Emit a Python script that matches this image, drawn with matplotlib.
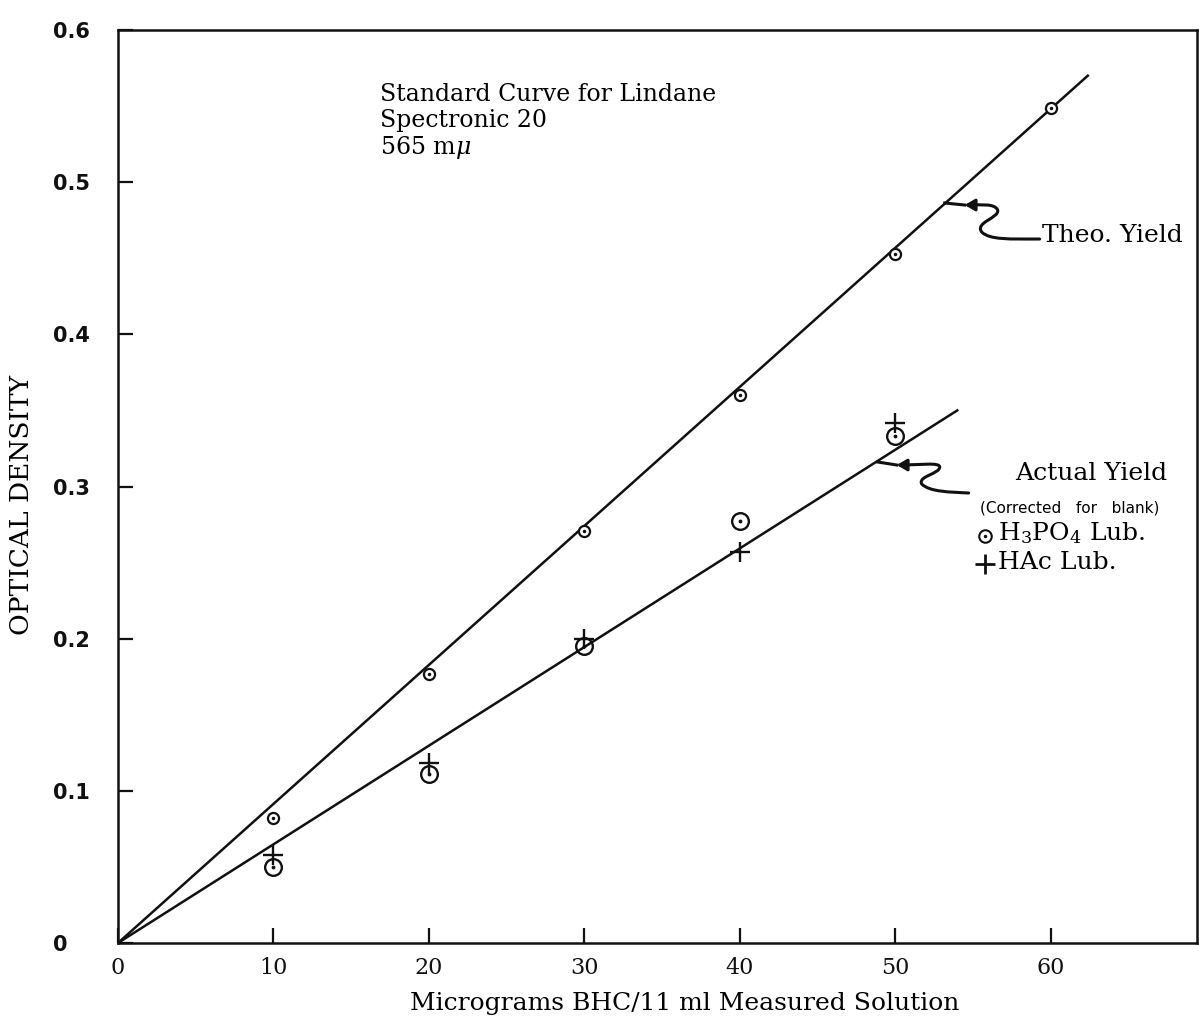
import matplotlib
matplotlib.use('Agg')
import matplotlib.pyplot as plt
from matplotlib.path import Path
from matplotlib.patches import FancyArrowPatch

# data
conc = [10, 20, 30, 40, 50, 60]
theo_od = [0.082, 0.177, 0.271, 0.360, 0.453, 0.549]
conc_act = [10, 20, 30, 40, 50]
h3po4_od = [0.050, 0.111, 0.195, 0.277, 0.333]
hac_od = [0.058, 0.118, 0.200, 0.257, 0.342]

theo_line_x = [0, 62.4]
theo_line_y = [0, 0.570]
act_line_x = [0, 54.0]
act_line_y = [0, 0.350]

xticks = [0, 10, 20, 30, 40, 50, 60]
yticks = [0, 0.1, 0.2, 0.3, 0.4, 0.5, 0.6]
ytick_labels = ['0', '0.1', '0.2', '0.3', '0.4', '0.5', '0.6']

plt.rcParams['mathtext.fontset'] = 'dejavuserif'
serif = 'DejaVu Serif'
ink = '#111111'

fig = plt.figure(figsize=(11.99, 10.18), dpi=100)
ax = fig.add_axes([0.0984, 0.0737, 0.8996, 0.8968])

ax.plot(theo_line_x, theo_line_y, color=ink, lw=1.8)
ax.plot(act_line_x, act_line_y, color=ink, lw=1.8)

# theoretical points: small dotted circles
ax.plot(conc, theo_od, 'o', ms=8, mfc='white', mec=ink, mew=1.6, ls='none')
ax.plot(conc, theo_od, '.', ms=3, color=ink, ls='none')
# H3PO4 lub: larger dotted circles
ax.plot(conc_act, h3po4_od, 'o', ms=12, mfc='none', mec=ink, mew=1.7, ls='none')
ax.plot(conc_act, h3po4_od, '.', ms=3.5, color=ink, ls='none')
# HAc lub: plus signs
ax.plot(conc_act, hac_od, '+', ms=14, mew=1.7, color=ink, ls='none')

ax.set_xlim(0, 69.4)
ax.set_ylim(0, 0.6)
ax.set_xticks(xticks)
ax.set_xticklabels([str(v) for v in xticks], family=serif, fontsize=16)
ax.set_yticks(yticks)
ax.set_yticklabels(ytick_labels, family='DejaVu Sans', fontweight='bold', fontsize=15,
                   ha='left')
ax.tick_params(direction='in', length=11, width=1.6, colors=ink)
ax.tick_params(axis='x', pad=10)
ax.tick_params(axis='y', pad=47)
for s in ax.spines.values():
    s.set_linewidth(1.8)
    s.set_color(ink)

ax.set_xlabel('Micrograms BHC/11 ml Measured Solution', family=serif, fontsize=18)
ax.xaxis.set_label_coords((685 - 118) / 1079.0, (943 - 992) / 913.0)
ax.set_ylabel('OPTICAL DENSITY', family=serif, fontsize=19)
ax.yaxis.set_label_coords((34 - 118) / 1079.0, (943 - 505) / 913.0)


def px(x, y):
    return ((x - 118) / 1079.0, (943 - y) / 913.0)


def label(x, y, s, size=18, **kw):
    ax.text(*px(x, y), s, transform=ax.transAxes, family=kw.pop('family', serif),
            fontsize=size, va='center', **kw)


ax.text(*px(380, 83), 'Standard Curve for Lindane\nSpectronic 20\n565 m$\\mu$',
        transform=ax.transAxes, family=serif, fontsize=17, va='top', linespacing=1.14)

label(1042, 235, 'Theo. Yield')
label(1015, 473, 'Actual Yield')
label(980, 508, '(Corrected   for   blank)', size=11, family='DejaVu Sans')
label(998, 533, 'H$_3$PO$_4$ Lub.')
label(998, 563, 'HAc Lub.')

ax.plot(*px(985, 536), 'o', ms=9, mfc='none', mec=ink, mew=1.5, transform=ax.transAxes,
        clip_on=False)
ax.plot(*px(985, 536), '.', ms=3, color=ink, transform=ax.transAxes, clip_on=False)
ax.plot(*px(985, 564), '+', ms=14, mew=2, color=ink, transform=ax.transAxes,
        clip_on=False)


def squiggle(points, end_pt):
    codes = [Path.MOVETO] + [Path.CURVE4] * (len(points) - 1)
    verts = [px(*p) for p in points]
    arrow = FancyArrowPatch(path=Path(verts, codes), arrowstyle='-|>,head_length=6,head_width=3.5',
                            transform=ax.transAxes, color=ink, lw=2.2)
    ax.add_patch(arrow)
    a = px(*points[-1])
    b = px(*end_pt)
    ax.plot([a[0], b[0]], [a[1], b[1]], color=ink, lw=2.2, transform=ax.transAxes)


squiggle([(1040, 239), (1010, 239), (990, 240), (982, 232),
          (975, 222), (1000, 218), (998, 210),
          (995, 203), (980, 205), (965, 205)], (945, 203))
squiggle([(969, 493), (950, 492), (930, 492), (922, 484),
          (918, 476), (940, 474), (940, 467),
          (940, 462), (920, 465), (897, 465)], (878, 462))

fig.savefig('out.png', dpi=100)
